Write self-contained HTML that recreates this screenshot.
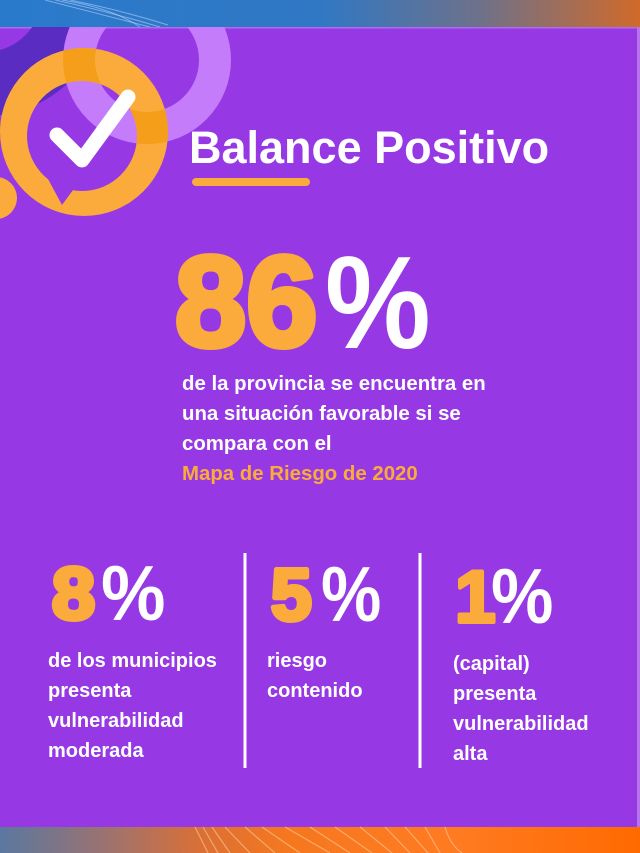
<!DOCTYPE html>
<html><head><meta charset="utf-8"><style>
html,body{margin:0;padding:0;background:#9639e5;}
svg{display:block;}
text{font-family:"Liberation Sans",Arial,sans-serif;font-weight:bold;}
</style></head><body>
<svg width="640" height="853" viewBox="0 0 640 853" xmlns="http://www.w3.org/2000/svg">
<defs>
<linearGradient id="topg" x1="0" y1="0" x2="1" y2="0">
<stop offset="0" stop-color="#2a7acc"/><stop offset="0.5" stop-color="#3078c4"/><stop offset="0.75" stop-color="#6e718a"/><stop offset="1" stop-color="#d06a2a"/>
</linearGradient>
<linearGradient id="botg" x1="0" y1="0" x2="1" y2="0">
<stop offset="0" stop-color="#5a78a0"/><stop offset="0.16" stop-color="#9a7272"/><stop offset="0.32" stop-color="#dc7034"/><stop offset="0.45" stop-color="#f5781e"/><stop offset="0.7" stop-color="#ff7b22"/><stop offset="1" stop-color="#ff6a00"/>
</linearGradient>
<clipPath id="panel"><rect x="0" y="27" width="637" height="800"/></clipPath>
<clipPath id="orangeclip"><path clip-rule="evenodd" d="M0,132 a84,84 0 1,0 168,0 a84,84 0 1,0 -168,0 Z M27,136 a55,55 0 1,0 110,0 a55,55 0 1,0 -110,0 Z"/></clipPath>
</defs>
<rect x="0" y="0" width="640" height="853" fill="#9639e5"/>
<rect x="0" y="0" width="640" height="27" fill="url(#topg)"/>
<g stroke="#cfe2ff" stroke-opacity="0.5" fill="none" stroke-width="1">
<path d="M45,0 Q100,14 150,27"/><path d="M55,0 Q110,12 160,27"/><path d="M70,0 Q120,10 168,25"/><path d="M62,0 Q112,8 140,27"/>
</g>
<rect x="0" y="827" width="640" height="26" fill="url(#botg)"/>
<g stroke="#ffd2a8" stroke-opacity="0.55" fill="none" stroke-width="1.2">
<path d="M195,827 L208,853"/><path d="M203,827 L218,853"/><path d="M212,827 L230,853"/><path d="M225,827 L250,853"/><path d="M245,827 L275,853"/><path d="M262,827 L300,853"/><path d="M285,827 L330,853"/><path d="M310,827 L350,853"/><path d="M335,827 L372,853"/><path d="M360,827 L392,853"/><path d="M385,827 L410,853"/><path d="M405,827 L428,853"/><path d="M425,827 L440,853"/><path d="M445,827 Q450,845 462,853"/>
</g>
<rect x="637" y="27" width="3" height="800" fill="#b773ea"/>
<rect x="0" y="27" width="637" height="1.5" fill="#b06cf0"/>
<g clip-path="url(#panel)">
<circle cx="-15" cy="-5" r="89" fill="none" stroke="#5b2cc2" stroke-width="64"/>
<circle cx="147" cy="60" r="68" fill="none" stroke="#c47cfb" stroke-width="32"/>
<path fill="#fbab3b" fill-rule="evenodd" d="M0,132 a84,84 0 1,0 168,0 a84,84 0 1,0 -168,0 Z M27,136 a55,55 0 1,0 110,0 a55,55 0 1,0 -110,0 Z"/>
<circle cx="147" cy="60" r="68" fill="none" stroke="#f49e1a" stroke-width="32" clip-path="url(#orangeclip)"/>
<polygon points="48,179 76,186 62,205" fill="#9639e5"/>
<circle cx="-4" cy="198" r="21" fill="#fbab3b"/>
<polyline points="57,135 82,160 128,97" fill="none" stroke="#ffffff" stroke-width="15" stroke-linecap="round" stroke-linejoin="round"/>
</g>
<text x="189" y="163" font-size="45" fill="#ffffff">Balance Positivo</text>
<rect x="192" y="178" width="118" height="8" rx="4" fill="#fbab3b"/>
<text x="175" y="346" font-size="128" fill="#fbab3b" stroke="#fbab3b" stroke-width="6" stroke-linejoin="round">86</text>
<text transform="translate(325,348) scale(0.9,1)" font-size="132" fill="#ffffff">%</text>
<g font-size="20.4" fill="#ffffff">
<text x="182" y="390">de la provincia se encuentra en</text>
<text x="182" y="420">una situación favorable si se</text>
<text x="182" y="450">compara con el</text>
<text x="182" y="480" fill="#fbab3b">Mapa de Riesgo de 2020</text>
</g>
<rect x="243.5" y="553" width="3" height="215" fill="#ffffff"/>
<rect x="418.5" y="553" width="3" height="215" fill="#ffffff"/>
<g fill="#fbab3b" stroke="#fbab3b" stroke-width="5" stroke-linejoin="round" font-size="73">
<text transform="translate(52,619) scale(1.06,1)">8</text>
<text x="271" y="620">5</text>
<text x="455" y="622" stroke-width="4">1</text>
</g>
<g fill="#ffffff" font-size="78">
<text transform="translate(101,620) scale(0.93,1)">%</text>
<text transform="translate(321,621) scale(0.87,1)">%</text>
<text transform="translate(491,623) scale(0.9,1)">%</text>
</g>
<g font-size="20" fill="#ffffff">
<text x="48" y="667">de los municipios</text>
<text x="48" y="697">presenta</text>
<text x="48" y="727">vulnerabilidad</text>
<text x="48" y="757">moderada</text>
<text x="267" y="667">riesgo</text>
<text x="267" y="697">contenido</text>
<text x="453" y="670">(capital)</text>
<text x="453" y="700">presenta</text>
<text x="453" y="730">vulnerabilidad</text>
<text x="453" y="760">alta</text>
</g>
</svg>
</body></html>
